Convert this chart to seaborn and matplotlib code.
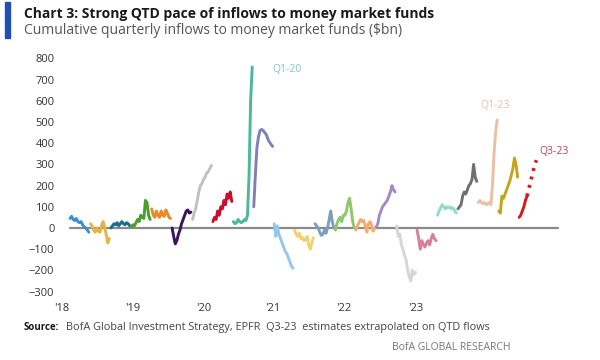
import matplotlib
matplotlib.use("Agg")
import matplotlib.pyplot as plt
import seaborn as sns
import pandas as pd

# === Data: weekly cumulative inflows ($bn) per quarter ===
quarters = ["Q1-18", "Q2-18", "Q3-18", "Q4-18", "Q1-19", "Q2-19", "Q3-19", "Q4-19",
            "Q1-20", "Q2-20", "Q3-20", "Q4-20", "Q1-21", "Q2-21", "Q3-21", "Q4-21",
            "Q1-22", "Q2-22", "Q3-22", "Q4-22", "Q1-23", "Q2-23", "Q3-23"]

q1_18 = [45, 55, 40, 35, 45, 30, 25, 30, 15, 5, 0, -10, -20]
q2_18 = [20, 10, -10, -20, 0, -15, -20, 10, 30, 5, -30, -70, -50]
q3_18 = [0, 10, 20, 15, 25, 10, 20, 30, 20, 15, 25, 20, 10]
q4_18 = [5, 15, 10, 25, 40, 30, 60, 50, 45, 130, 120, 60, 40]
q1_19 = [90, 60, 50, 80, 60, 50, 80, 60, 55, 85, 70, 50, 45]
q2_19 = [0, -40, -75, -60, -30, -10, 20, 40, 60, 80, 85, 70, 75]
q3_19 = [40, 70, 90, 130, 170, 200, 210, 230, 240, 260, 265, 280, 295]
q4_19 = [30, 50, 40, 80, 60, 100, 90, 130, 110, 160, 140, 170, 125]
q1_20 = [30, 20, 25, 40, 30, 25, 30, 40, 35, 60, 250, 600, 760]
q2_20 = [100, 250, 380, 430, 460, 465, 460, 450, 440, 420, 405, 395, 385]
q3_20 = [20, -40, 10, -30, -50, -70, -90, -110, -120, -140, -160, -180, -190]
q4_20 = [-10, -30, -40, -25, -50, -45, -60, -55, -40, -80, -100, -70, -45]
q1_21 = [20, 10, 0, -20, -35, -30, -10, -25, 0, 40, 80, 30, 0]
q2_21 = [-10, 20, 40, 50, 30, 60, 60, 80, 120, 140, 90, 30, 0]
q3_21 = [-10, 10, 25, 40, 30, 35, 10, -20, 20, 30, 15, -15, 0]
q4_21 = [5, 20, 60, 80, 100, 110, 120, 130, 150, 170, 200, 180, 170]
q1_22 = [10, -40, -30, -80, -100, -130, -150, -200, -230, -250, -200, -220, -210]
q2_22 = [-10, -50, -100, -60, -80, -90, -70, -60, -80, -50, -30, -50, -60]
q3_22 = [60, 80, 95, 110, 100, 90, 100, 95, 100, 90, 95, 80, 70]
q4_22 = [90, 100, 110, 150, 170, 160, 180, 200, 210, 230, 300, 240, 220]
q1_23 = [120, 130, 120, 115, 120, 110, 115, 120, 110, 200, 350, 450, 510]
q2_23 = [80, 70, 150, 140, 160, 180, 200, 220, 250, 280, 330, 300, 240]
q3_23 = [50, 60, 80, 100, 130, 150]
q3_23_est = [150, 180, 210, 240, 270, 300, 320]

year_labels = ["'18", "'19", "'20", "'21", "'22", "'23"]
year_tick_weeks = [-5, 40, 85, 129, 174, 220]

colors = ["#3b8fd0", "#e8b440", "#1f6d8c", "#4a9e2f", "#e88a2a", "#3b1460",
          "#c0c0c0", "#c8102e", "#4bb896", "#8080b8", "#94c8ea", "#f5d070",
          "#7aa0ba", "#8cc96b", "#f5aa70", "#a08ac8", "#d6d6d6", "#d88098",
          "#90dccc", "#707070", "#ecbfa2", "#c9a21c", "#d7191c"]

series = [q1_18, q2_18, q3_18, q4_18, q1_19, q2_19, q3_19, q4_19, q1_20, q2_20,
          q3_20, q4_20, q1_21, q2_21, q3_21, q4_21, q1_22, q2_22, q3_22, q4_22,
          q1_23, q2_23, q3_23]

# === Long-form table ===
rows = []
for k, (q, vals) in enumerate(zip(quarters, series)):
    for j, v in enumerate(vals):
        rows.append({"week": k * 13 + j, "flow": v, "quarter": q})
df = pd.DataFrame(rows)

est = pd.DataFrame({"week": [22 * 13 + 5 + j for j in range(len(q3_23_est))],
                    "flow": q3_23_est})

# === Plot ===
sns.set_style("white")
plt.rcParams["font.family"] = ["Open Sans", "DejaVu Sans"]

fig = plt.figure(figsize=(6, 3.6), dpi=100)
ax = fig.add_axes([0.1, 0.1667, 0.8333, 0.6944])

ax.plot([0, 311], [0, 0], color="#8a8a8a", lw=1.6, zorder=1)
sns.lineplot(data=df, x="week", y="flow", hue="quarter", palette=dict(zip(quarters, colors)),
             linewidth=2.1, legend=False, ax=ax, zorder=2)
sns.lineplot(data=est, x="week", y="flow", color="#d7191c", linewidth=2.6,
             linestyle=(0, (0.8, 1.6)), ax=ax, zorder=2)

ax.set_xlim(-6.4, 312)
ax.set_ylim(-340, 840)
ax.set_yticks(range(-300, 801, 100))
ax.set_xticks(year_tick_weeks)
ax.set_xticklabels(year_labels)
ax.tick_params(axis="both", labelsize=8, colors="#333333", length=0, pad=2)
ax.tick_params(axis="y", pad=4)
ax.set_xlabel("")
ax.set_ylabel("")
for s in ax.spines.values():
    s.set_visible(False)

ax.text(129, 750, "Q1-20", color="#7fc8c0", fontsize=7.5, va="center")
ax.text(261, 578, "Q1-23", color="#e4c0b0", fontsize=7.5, va="center")
ax.text(299, 360, "Q3-23", color="#c04058", fontsize=7.5, va="center")

# === Titles and footnotes ===
fig.patches.append(plt.Rectangle((0.009, 0.895), 0.008, 0.1, transform=fig.transFigure,
                                 color="#1f4fb4", figure=fig))
fig.text(0.04, 0.962, "Chart 3: Strong QTD pace of inflows to money market funds",
         fontsize=10, fontweight="bold", color="#1a1a1a", va="center")
fig.text(0.04, 0.915, "Cumulative quarterly inflows to money market funds ($bn)",
         fontsize=10, color="#555555", va="center")
fig.text(0.04, 0.09, "Source:", fontsize=7, fontweight="bold", color="#1a1a1a", va="center")
fig.text(0.11, 0.09, "BofA Global Investment Strategy, EPFR  Q3-23  estimates extrapolated on QTD flows",
         fontsize=7.8, color="#444444", va="center")
fig.text(0.85, 0.035, "BofA GLOBAL RESEARCH", fontsize=7.5, color="#777777",
         va="center", ha="right")

fig.savefig("out.png", dpi=100)
